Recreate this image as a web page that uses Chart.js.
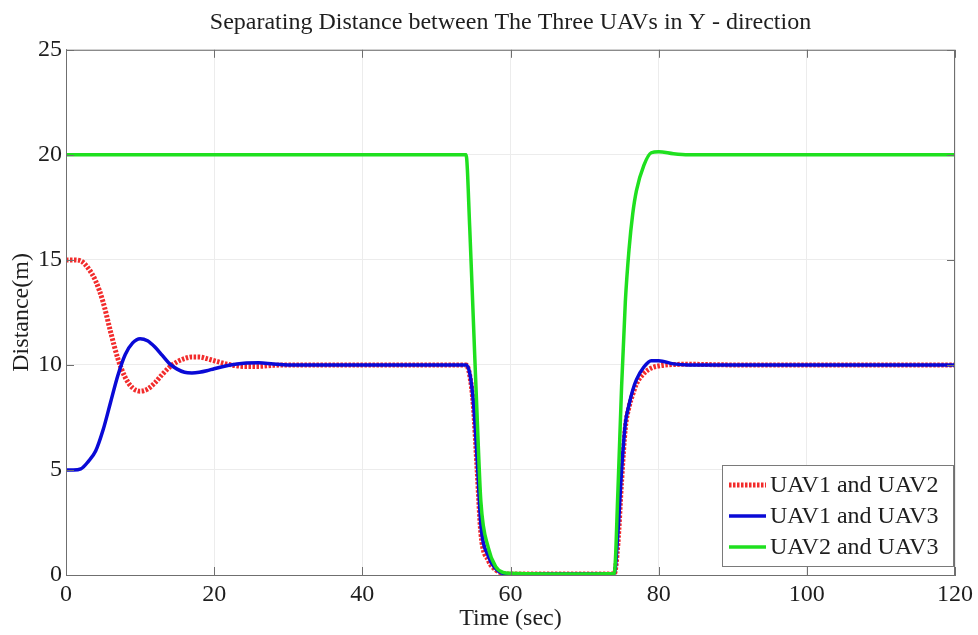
<!DOCTYPE html>
<html lang="en">
<head>
    <title>Separating Distance - Y direction</title>
    <script src="https://cdn.jsdelivr.net/npm/chart.js"></script>
    <style>
        body {
            margin: 0;
            background: #ffffff;
        }

        .chart-container {
            position: relative;
            width: 978px;
            height: 635px;
        }
    </style>
</head>
<body>
    <div class="chart-container">
        <canvas id="distanceChart" width="978" height="635"></canvas>
    </div>

    <script>
        // time samples (sec), shared by all three series
        const timeSec = [0, 1, 2, 3, 4, 5, 6, 7, 8, 9, 10, 11, 12, 13, 14, 15, 16, 17, 18, 19, 20,
            22, 24, 26, 28, 30, 35, 40, 45, 50, 54, 54.5, 55, 55.5, 56, 57, 58, 59, 60, 65, 70,
            74, 74.5, 75, 75.5, 76, 76.5, 77, 78, 79, 80, 82, 84, 90, 100, 110, 120];

        const uav1uav2 = [15, 15, 14.95, 14.6, 14.0, 13.0, 11.6, 10.3, 9.4, 8.9, 8.75, 8.85, 9.15, 9.55, 9.9, 10.15, 10.3, 10.38, 10.38, 10.3, 10.2,
            10.02, 9.93, 9.93, 9.98, 10, 10, 10, 10, 10, 10, 9.5, 8.0, 5.0, 2.0, 0.7, 0.25, 0.08, 0.05, 0.05, 0.05,
            0.05, 1.5, 4.5, 7.0, 8.0, 8.6, 9.1, 9.6, 9.85, 9.95, 10.02, 10.03, 10, 10, 10, 10];

        const uav1uav3 = [5, 5, 5.05, 5.4, 5.9, 6.9, 8.2, 9.5, 10.5, 11.05, 11.25, 11.15, 10.85, 10.45, 10.05, 9.8, 9.65, 9.62, 9.65, 9.72, 9.82,
            9.98, 10.08, 10.1, 10.04, 10, 10, 10, 10, 10, 10, 9.6, 8.2, 5.5, 2.4, 0.9, 0.3, 0.07, 0.05, 0.05, 0.05,
            0.05, 2.0, 5.0, 7.2, 8.1, 8.8, 9.3, 9.9, 10.2, 10.2, 10.05, 10, 10, 10, 10, 10];

        const uav2uav3 = [20, 20, 20, 20, 20, 20, 20, 20, 20, 20, 20, 20, 20, 20, 20, 20, 20, 20, 20, 20, 20,
            20, 20, 20, 20, 20, 20, 20, 20, 20, 20, 16.5, 12, 7.5, 3.5, 1.3, 0.4, 0.12, 0.08, 0.05, 0.05,
            0.07, 4.0, 9.0, 13.0, 15.5, 17.2, 18.3, 19.5, 20.1, 20.15, 20.05, 20, 20, 20, 20, 20];

        const seriesNames = ['UAV1 and UAV2', 'UAV1 and UAV3', 'UAV2 and UAV3'];
        const xTicks = [0, 20, 40, 60, 80, 100, 120];
        const yTicks = [0, 5, 10, 15, 20, 25];

        const serif = '"Liberation Serif", "Times New Roman", serif';

        function toPoints(values) {
            return values.map((v, i) => ({ x: timeSec[i], y: v }));
        }

        // frame, inward tick marks and the legend box inside the axes
        const matlabFrame = {
            id: 'matlabFrame',
            afterDatasetsDraw(chart) {
                const { ctx, chartArea: a, scales } = chart;
                ctx.save();
                ctx.strokeStyle = '#6f6f6f';
                ctx.lineWidth = 1;
                ctx.beginPath();
                xTicks.forEach(t => {
                    const px = Math.round(scales.x.getPixelForValue(t)) + 0.5;
                    ctx.moveTo(px, a.bottom); ctx.lineTo(px, a.bottom - 8);
                    ctx.moveTo(px, a.top); ctx.lineTo(px, a.top + 8);
                });
                yTicks.forEach(t => {
                    const py = Math.round(scales.y.getPixelForValue(t)) + 0.5;
                    ctx.moveTo(a.left, py); ctx.lineTo(a.left + 8, py);
                    ctx.moveTo(a.right, py); ctx.lineTo(a.right - 8, py);
                });
                ctx.stroke();
                ctx.strokeRect(a.left + 0.5, a.top + 0.5, a.right - a.left - 1, a.bottom - a.top);

                // legend
                const bw = 231, bh = 101;
                const bx = a.right - bw - 2, by = a.bottom - bh - 9;
                ctx.fillStyle = '#ffffff';
                ctx.fillRect(bx, by, bw, bh);
                ctx.strokeStyle = '#7a7a7a';
                ctx.strokeRect(bx + 0.5, by + 0.5, bw, bh);
                ctx.font = '24px ' + serif;
                ctx.textBaseline = 'middle';
                chart.data.datasets.forEach((ds, i) => {
                    const ry = by + 20 + i * 31;
                    ctx.strokeStyle = ds.borderColor;
                    ctx.lineWidth = ds.borderWidth;
                    ctx.lineCap = 'butt';
                    ctx.setLineDash(ds.borderDash || []);
                    ctx.beginPath();
                    ctx.moveTo(bx + 7, ry);
                    ctx.lineTo(bx + 44, ry);
                    ctx.stroke();
                    ctx.setLineDash([]);
                    ctx.fillStyle = '#1e1e1e';
                    ctx.fillText(ds.label, bx + 48, ry + 1);
                });
                ctx.restore();
            }
        };

        new Chart(document.getElementById('distanceChart'), {
            type: 'line',
            data: {
                datasets: [
                    {
                        label: seriesNames[0],
                        data: toPoints(uav1uav2),
                        borderColor: '#f22c2c',
                        borderWidth: 5,
                        borderDash: [2.5, 1.5],
                        borderCapStyle: 'butt',
                        order: 2
                    },
                    {
                        label: seriesNames[1],
                        data: toPoints(uav1uav3),
                        borderColor: '#0a0ad6',
                        borderWidth: 3.5,
                        order: 1
                    },
                    {
                        label: seriesNames[2],
                        data: toPoints(uav2uav3),
                        borderColor: '#1fe01f',
                        borderWidth: 3.5,
                        order: 0
                    }
                ]
            },
            options: {
                responsive: false,
                animation: false,
                devicePixelRatio: 1,
                elements: {
                    point: { radius: 0 },
                    line: { cubicInterpolationMode: 'monotone', borderCapStyle: 'round', borderJoinStyle: 'round' }
                },
                layout: {
                    padding: { left: 0, right: 22, top: 0, bottom: 0 }
                },
                plugins: {
                    legend: { display: false },
                    tooltip: { enabled: false },
                    title: {
                        display: true,
                        fullSize: false,
                        text: 'Separating Distance between The Three UAVs in Y - direction',
                        color: '#1e1e1e',
                        font: { family: serif, size: 24, weight: 'normal' },
                        padding: { top: 8, bottom: 13 }
                    }
                },
                scales: {
                    x: {
                        type: 'linear',
                        min: 0,
                        max: 120,
                        afterFit(scale) { scale.height = 60; },
                        afterBuildTicks(scale) { scale.ticks = xTicks.map(v => ({ value: v })); },
                        grid: { color: '#ececec', drawTicks: false },
                        border: { color: '#6f6f6f' },
                        ticks: {
                            color: '#1e1e1e',
                            padding: 5,
                            maxRotation: 0,
                            font: { family: serif, size: 24 }
                        },
                        title: {
                            display: true,
                            text: 'Time (sec)',
                            color: '#1e1e1e',
                            font: { family: serif, size: 24 },
                            padding: { top: 0, bottom: 2 }
                        }
                    },
                    y: {
                        min: 0,
                        max: 25,
                        afterFit(scale) { scale.width = 66; },
                        afterBuildTicks(scale) { scale.ticks = yTicks.map(v => ({ value: v })); },
                        grid: { color: '#ececec', drawTicks: false },
                        border: { color: '#8a8a8a' },
                        ticks: {
                            color: '#1e1e1e',
                            padding: 4,
                            font: { family: serif, size: 24 }
                        },
                        title: {
                            display: true,
                            text: 'Distance(m)',
                            color: '#1e1e1e',
                            font: { family: serif, size: 24 },
                            padding: { top: 7, bottom: 0 }
                        }
                    }
                }
            },
            plugins: [matlabFrame]
        });
    </script>
</body>
</html>
